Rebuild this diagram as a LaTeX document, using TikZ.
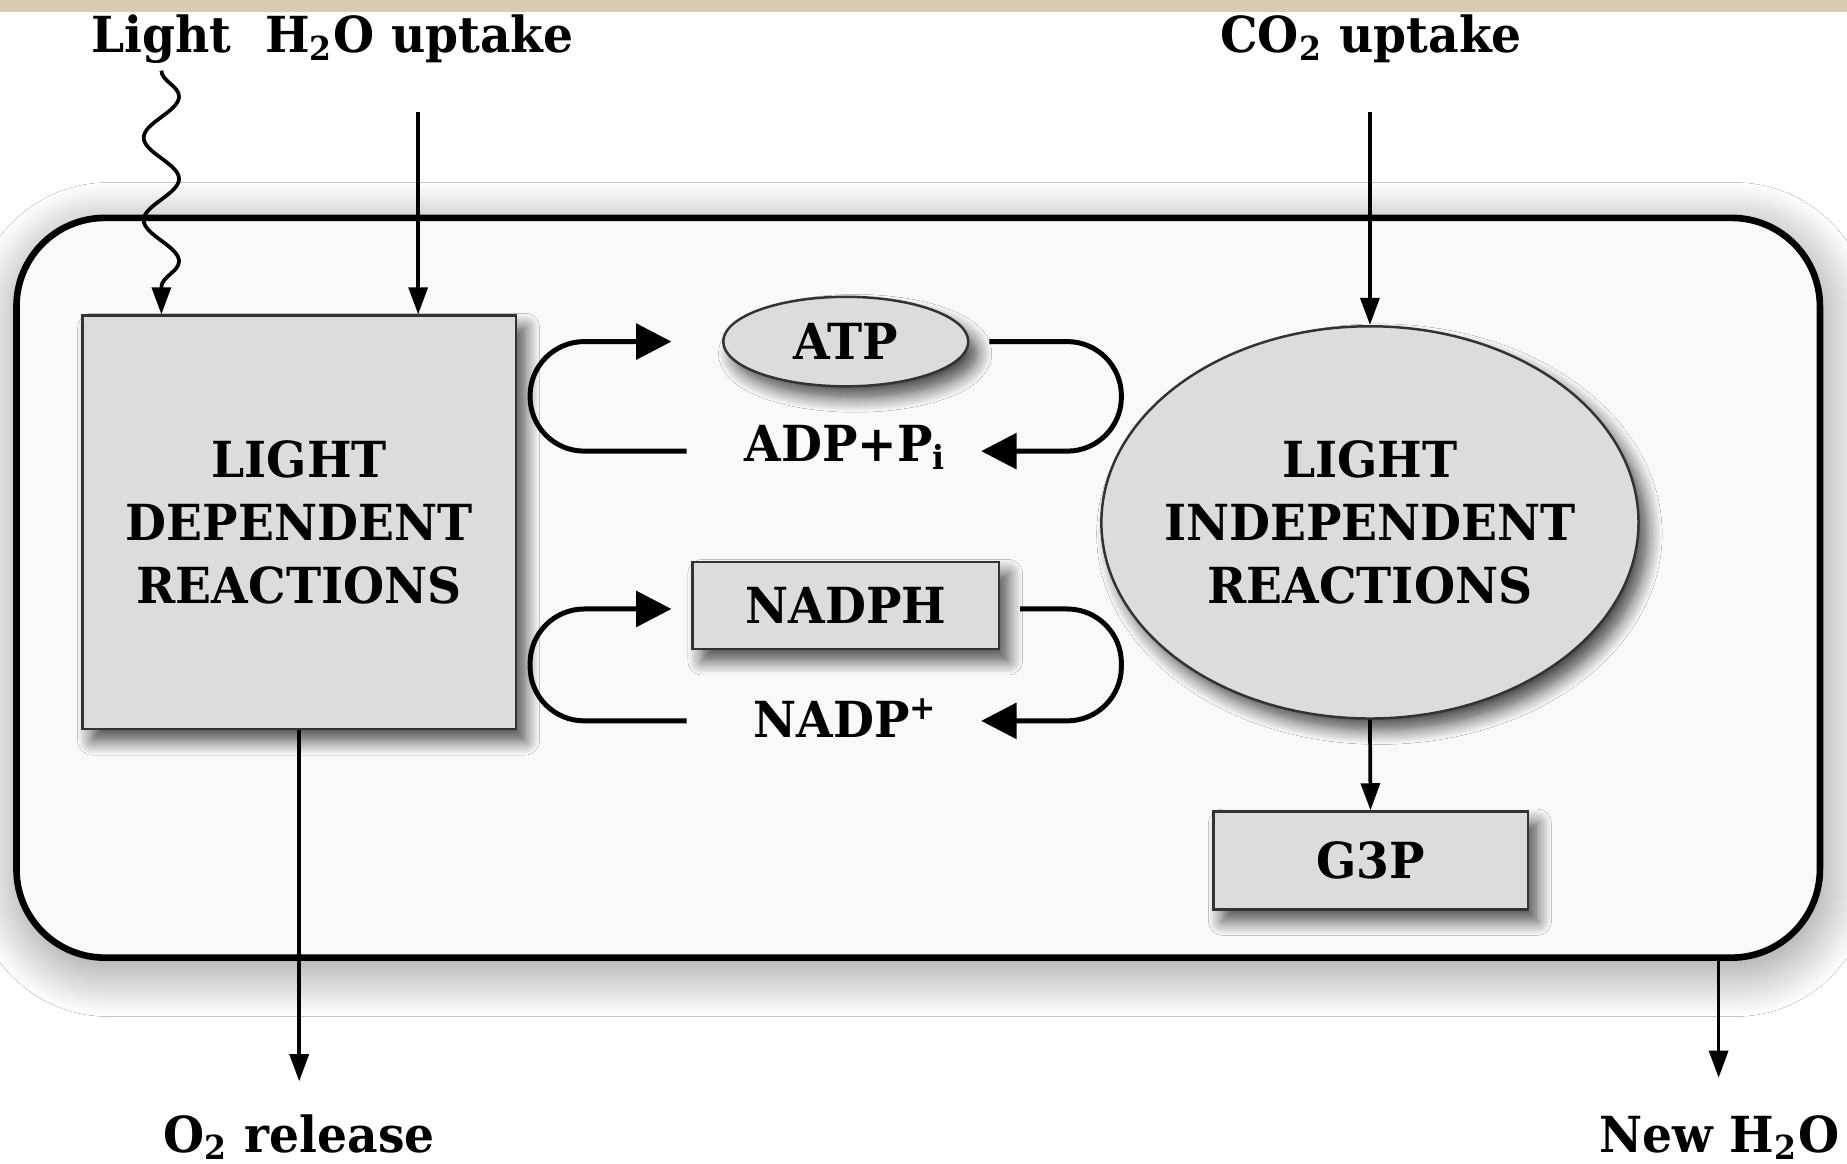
\documentclass[tikz,border=0pt]{standalone}
\usepackage{fontspec}
\setmainfont{DejaVu Serif}[FakeStretch=0.95]
\usetikzlibrary{positioning,arrows.meta,shapes,shadows.blur}
\usetikzlibrary{decorations.pathmorphing}

\definecolor{cellfill}{RGB}{249,249,249}
\definecolor{boxfill}{RGB}{220,220,220}
\definecolor{stripfill}{RGB}{214,204,176}

\tikzset{
  lbl/.style={font=\fontsize{12}{15.2}\selectfont\bfseries, inner sep=0pt},
  procbox/.style={draw=black!80, line width=0.6pt, fill=boxfill, lbl, align=center,
    blur shadow={shadow xshift=0.8mm, shadow yshift=-1mm, shadow blur radius=1.2mm,
      shadow opacity=70, shadow blur steps=10}},
  thinarr/.style={line width=0.9pt, -{Triangle[length=2.3mm,width=1.6mm]}},
  looparr/.style={line width=1.2pt, rounded corners=0.46cm, -{Triangle[length=3mm,width=3mm]}},
}

\begin{document}
\begin{tikzpicture}
%
    \fill[white] (0,0) rectangle (15.68,9.88);
    \fill[stripfill] (0,9.78) rectangle (15.68,9.88);
    \useasboundingbox (0,0) rectangle (15.68,9.88);
%
    \node[draw, line width=1.6pt, fill=cellfill, rounded corners=0.75cm,
      minimum width=15.31cm, minimum height=6.28cm,
      blur shadow={shadow xshift=0.3mm, shadow yshift=-1mm, shadow blur radius=4mm,
        shadow opacity=45, shadow blur steps=30}]
      (cell) at (7.795,4.89) {};
%
    \node[procbox, minimum width=3.68cm, minimum height=3.51cm] (ldr) at (2.54,5.445) {LIGHT\\DEPENDENT\\REACTIONS};
    \node[procbox, ellipse, inner xsep=-0.3cm, minimum width=4.56cm, minimum height=3.33cm] (lir) at (11.63,5.445) {LIGHT\\INDEPENDENT\\REACTIONS};
    \node[procbox, ellipse, minimum width=2.08cm, minimum height=0.76cm] (atp) at (7.18,6.98) {ATP};
    \node[lbl, anchor=base] (adp) at (7.18,5.96) {ADP+P\textsubscript{i}};
    \node[procbox, minimum width=2.60cm, minimum height=0.74cm] (nadph) at (7.18,4.74) {NADPH};
    \node[lbl, anchor=base] (nadp) at (7.18,3.62) {NADP\textsuperscript{+}};
    \node[procbox, minimum width=2.67cm, minimum height=0.83cm] (g3p) at (11.635,2.575) {G3P};
%
    \node[lbl, anchor=base] (light) at (1.37,9.43) {Light};
    \node[lbl, anchor=base] (h2oin) at (3.56,9.43) {H\textsubscript{2}O uptake};
    \node[lbl, anchor=base] (co2in) at (11.64,9.43) {CO\textsubscript{2} uptake};
    \node[lbl, anchor=base] (o2out) at (2.54,0.10) {O\textsubscript{2} release};
    \node[lbl, anchor=base] (h2oout) at (14.595,0.10) {New H\textsubscript{2}O};
%
    \node[coordinate] (lightsrc) at (1.37,9.28) {};
    \node[coordinate] (h2osrc) at (3.55,8.93) {};
    \node[coordinate] (co2src) at (11.63,8.93) {};
    \node[coordinate] (o2end) at (2.54,0.70) {};
    \node[coordinate] (h2oend) at (14.59,0.73) {};
%
    \draw[thinarr, decorate, decoration={snake, amplitude=1.5mm, segment length=7mm, post length=2mm}]
      (lightsrc) -- (ldr.north -| lightsrc);
    \draw[thinarr] (h2osrc) -- (ldr.north -| h2osrc);
    \draw[thinarr] (co2src) -- (lir.north);
    \draw[thinarr] (lir.south) -- (g3p.north);
    \draw[thinarr] (ldr.south) -- (o2end);
    \draw[thinarr] (cell.south -| h2oend) -- (h2oend);
%
    \node[coordinate] (atpL) at (5.70,6.98) {};
    \node[coordinate] (adpL) at (5.83,6.05) {};
    \node[coordinate] (atpR) at (8.40,6.98) {};
    \node[coordinate] (adpR) at (8.33,6.05) {};
    \node[coordinate] (nadphL) at (5.70,4.71) {};
    \node[coordinate] (nadpL) at (5.83,3.76) {};
    \node[coordinate] (nadphR) at (8.66,4.71) {};
    \node[coordinate] (nadpR) at (8.33,3.76) {};
%
    \draw[looparr] (adpL) -- ++(-1.33,0) |- (atpL);
    \draw[looparr] (atpR) -- ++(1.12,0) |- (adpR);
    \draw[looparr] (nadpL) -- ++(-1.33,0) |- (nadphL);
    \draw[looparr] (nadphR) -- ++(0.86,0) |- (nadpR);
\end{tikzpicture}
\end{document}
